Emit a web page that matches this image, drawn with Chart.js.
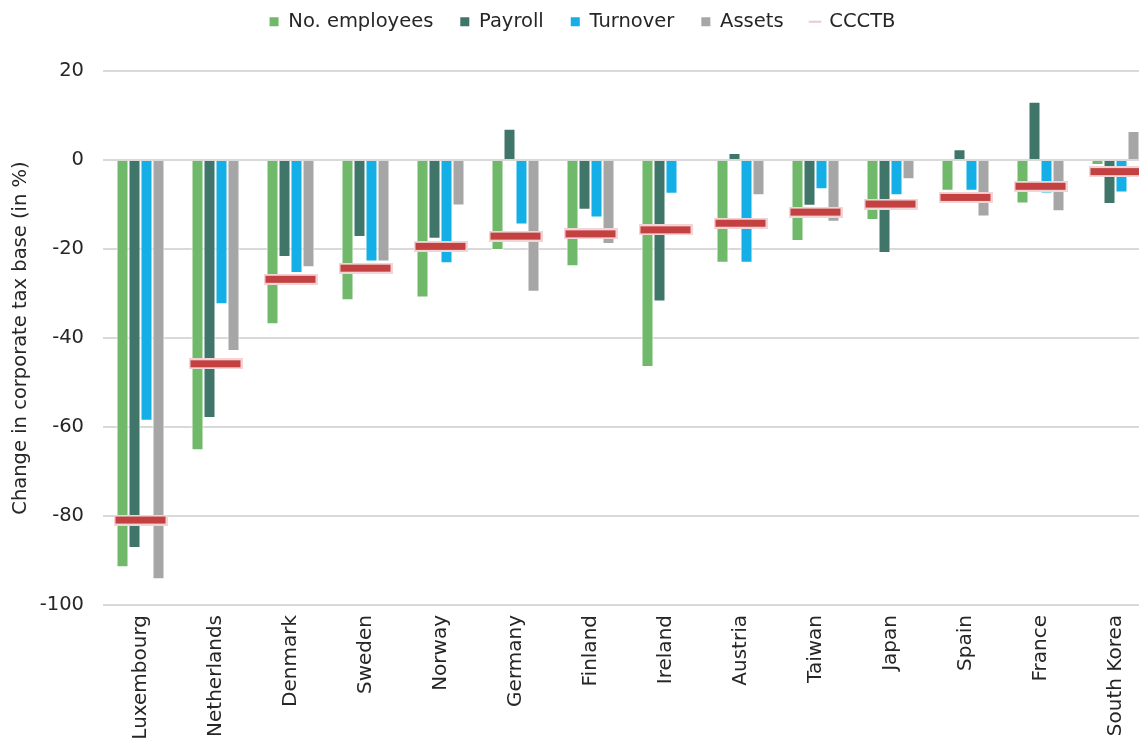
<!DOCTYPE html>
<html>
<head>
<meta charset="utf-8">
<script src="https://cdn.jsdelivr.net/npm/chart.js@4"></script>
<style>
  html, body { margin: 0; padding: 0; overflow: hidden; background: #fff; }
  #wrap { position: absolute; left: 0; top: 0; width: 1177px; height: 770px; }
</style>
</head>
<body>
<div id="wrap"><canvas id="chart" width="1177" height="770"></canvas></div>
<script>
// Change in corporate tax base (in %) by apportionment factor
const countries = ['Luxembourg', 'Netherlands', 'Denmark', 'Sweden', 'Norway', 'Germany', 'Finland',
                   'Ireland', 'Austria', 'Taiwan', 'Japan', 'Spain', 'France', 'South Korea'];
const employees = [-91.5, -65.2, -36.9, -31.5, -30.9, -20.2, -23.9, -46.5, -23.1, -18.2, -13.5, -6.9, -9.8, -1.1];
const payroll   = [-87.2, -58.0, -21.8, -17.3, -17.7,   7.0, -11.2, -31.8,   1.6, -10.3, -20.9,  2.4, 13.1, -9.9];
const turnover  = [-58.6, -32.4, -25.4, -22.8, -23.2, -14.5, -12.9,  -7.6, -23.1,  -6.6,  -7.9, -6.9, -7.5, -7.3];
const assets    = [-94.2, -42.9, -24.1, -22.8, -10.2, -29.6, -18.9,   0.0,  -7.9, -13.9,  -4.3, -12.7, -11.5, 6.5];
const ccctb     = [-80.9, -45.8, -26.8, -24.3, -19.4, -17.1, -16.6, -15.7, -14.2, -11.7,  -9.9, -8.4, -5.9, -2.6];
const yTicks    = { min: -100, max: 20, step: 20 };

// CCCTB marker: red bar with a pale pink rim
const marker = document.createElement('canvas');
marker.width = 54; marker.height = 11;
const mg = marker.getContext('2d');
mg.fillStyle = '#f3d3d5'; mg.fillRect(0, 0, 54, 11);
mg.fillStyle = '#c34140'; mg.fillRect(2, 2, 50, 7);

const FONT = "'DejaVu Sans', sans-serif";
const TEXT = '#262626';
Chart.defaults.font.family = FONT;
Chart.defaults.font.size = 19.5;
Chart.defaults.color = TEXT;

function barSet(label, data, color) {
  return {
    label, data, backgroundColor: color, borderColor: '#ffffff', borderWidth: 1,
    categoryPercentage: 0.64, barPercentage: 1.0, order: 1
  };
}

new Chart(document.getElementById('chart'), {
  type: 'bar',
  data: {
    labels: countries,
    datasets: [
      barSet('No. employees', employees, '#71b96a'),
      barSet('Payroll', payroll, '#40766a'),
      barSet('Turnover', turnover, '#13afe6'),
      barSet('Assets', assets, '#a6a6a6'),
      {
        type: 'line', label: 'CCCTB', data: ccctb, showLine: false,
        pointStyle: marker, borderColor: '#f0c8cb', backgroundColor: '#c34140', order: 0
      }
    ]
  },
  options: {
    responsive: false,
    animation: false,
    devicePixelRatio: 1,
    layout: { padding: { top: -15, right: 24, left: 12, bottom: 0 } },
    plugins: {
      tooltip: { enabled: false },
      legend: {
        position: 'top',
        labels: {
          usePointStyle: true, boxWidth: 9, boxHeight: 9, padding: 27, color: TEXT,
          font: { family: FONT, size: 19.5 },
          generateLabels(chart) {
            const items = Chart.defaults.plugins.legend.labels.generateLabels(chart);
            items.sort((a, b) => a.datasetIndex - b.datasetIndex);
            items.forEach(it => {
              if (it.datasetIndex === 4) {
                it.pointStyle = 'line'; it.strokeStyle = '#f0c8cb'; it.lineWidth = 2;
              } else {
                it.pointStyle = 'rect'; it.lineWidth = 0;
              }
            });
            return items;
          }
        }
      },
      title: { display: true, text: '', weight: 500, font: { size: 1 }, padding: { top: 0, bottom: 28.3 } }
    },
    scales: {
      x: {
        grid: { display: false, drawTicks: false },
        border: { display: false },
        ticks: { autoSkip: false, maxRotation: 90, minRotation: 90, padding: 10, color: TEXT, font: { size: 20 } },
        afterFit(s) { s.height = 165; }
      },
      y: {
        min: yTicks.min, max: yTicks.max,
        ticks: { stepSize: yTicks.step, padding: 19, color: TEXT },
        grid: { color: '#d9d9d9', lineWidth: 2, drawTicks: false },
        border: { display: false },
        title: { display: true, text: 'Change in corporate tax base (in %)', color: TEXT, padding: { top: -3, bottom: 0 } },
        afterFit(s) { s.width = 91; }
      }
    }
  }
});
</script>
</body>
</html>
